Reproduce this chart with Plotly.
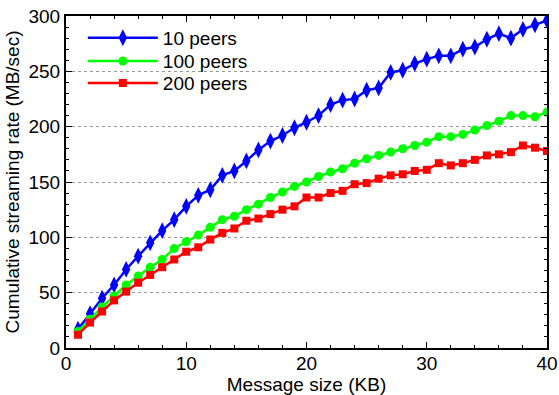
import plotly.graph_objects as go

msg_kb = list(range(1, 41))
peers10 = [17, 31, 45, 57, 71, 83, 95, 106, 116, 128, 138, 143, 156, 160, 169, 179, 187, 192, 199, 204,
           210, 220, 224, 225, 233, 235, 249, 251, 257, 261, 264, 264, 270, 272, 279, 284, 280, 288, 292, 296]
peers100 = [15, 26, 37, 47, 57, 65, 73, 80, 90, 96, 102, 109, 116, 119, 125, 130, 136, 141, 146, 150,
            155, 159, 162, 167, 171, 174, 177, 180, 183, 186, 191, 191, 193, 197, 201, 205, 210, 210, 209, 213]
peers200 = [12, 23, 33, 43, 51, 59, 66, 73, 80, 87, 91, 98, 104, 108, 115, 117, 121, 125, 128, 136,
            136, 140, 142, 148, 149, 153, 156, 157, 160, 161, 167, 165, 167, 170, 174, 175, 177, 183, 181, 178]

series = [
    ("10 peers", peers10, "#0000ff", "diamond-tall", 12, "legend"),
    ("100 peers", peers100, "#00ff00", "circle", 9, "legend2"),
    ("200 peers", peers200, "#ff0000", "square", 8, "legend3"),
]
legend_y = {"legend": 0.934, "legend2": 0.864, "legend3": 0.798}

FONT = "Liberation Sans, Arial, sans-serif"

fig = go.Figure()
for name, ys, col, sym, sz, lg in series:
    fig.add_trace(go.Scatter(
        x=msg_kb, y=ys, name=name, mode="lines+markers", legend=lg,
        line=dict(color=col, width=2.5),
        marker=dict(symbol=sym, size=sz, color=col, line=dict(width=0)),
    ))

axis_common = dict(
    showline=True, linecolor="black", linewidth=2, mirror="ticks",
    ticks="inside", ticklen=6, tickwidth=1, tickcolor="black",
    tickfont=dict(family=FONT, size=19, color="black"),
    zeroline=False, automargin=False,
)

fig.update_xaxes(
    range=[0, 40], dtick=10, tick0=0,
    minor=dict(dtick=2, ticks="inside", ticklen=3, tickcolor="black", showgrid=False),
    showgrid=False, ticklabelstandoff=-3,
    title=dict(text="Message size (KB)", font=dict(family=FONT, size=19, color="black"), standoff=6),
    **axis_common,
)
fig.update_yaxes(
    range=[0, 300], dtick=50, tick0=0,
    minor=dict(dtick=10, ticks="inside", ticklen=3, tickcolor="black", showgrid=False),
    showgrid=True, gridcolor="#999999", griddash="dot", gridwidth=1,
    title=dict(text="Cumulative streaming rate (MB/sec)", font=dict(family=FONT, size=19, color="black"), standoff=4),
    **axis_common,
)

legend_common = dict(x=0.035, xanchor="left", yanchor="middle", bgcolor="rgba(0,0,0,0)",
                     itemwidth=70, font=dict(family=FONT, size=19, color="black"))

fig.update_layout(
    width=559, height=395,
    margin=dict(l=66, r=12, t=16, b=47),
    paper_bgcolor="white", plot_bgcolor="white",
    font=dict(family=FONT, size=19, color="black"),
    legend=dict(y=legend_y["legend"], **legend_common),
    legend2=dict(y=legend_y["legend2"], **legend_common),
    legend3=dict(y=legend_y["legend3"], **legend_common),
    showlegend=True,
)

fig.write_html("out.html")
